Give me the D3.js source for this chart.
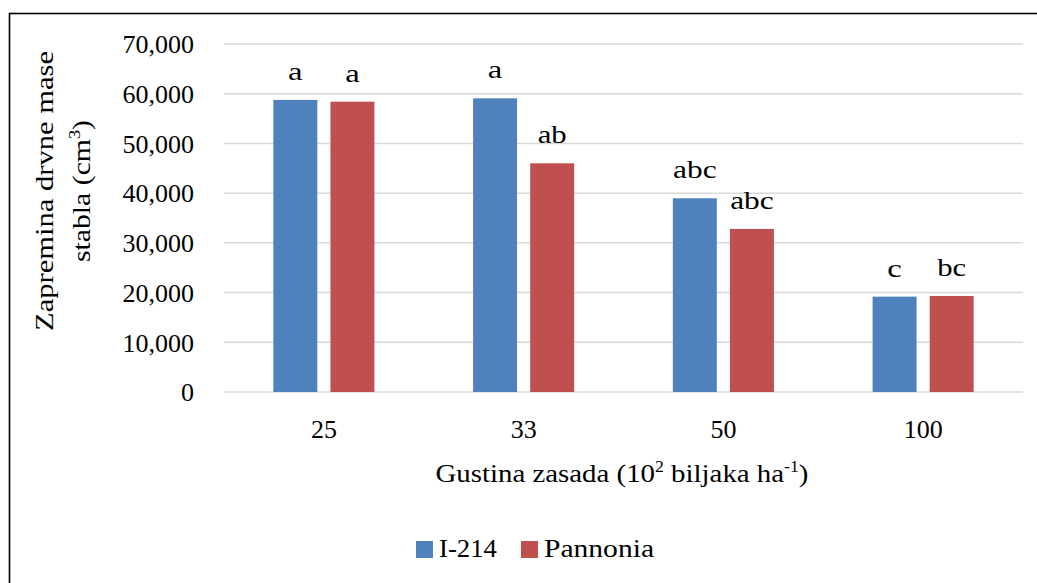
<!DOCTYPE html>
<html><head><meta charset="utf-8">
<script src="https://cdn.jsdelivr.net/npm/d3@7"></script>
</head>
<body style="margin:0;background:#fff">
<svg id="chart" width="1037" height="583" style="display:block"></svg>
<script>
const categories = ["25", "33", "50", "100"];
const seriesNames = ["I-214", "Pannonia"];
const valuesI214 = [58750, 59070, 38970, 19180];
const valuesPannonia = [58400, 46000, 32800, 19320];
const lettersI214 = ["a", "a", "abc", "c"];
const lettersPannonia = ["a", "ab", "abc", "bc"];
const yTicks = [0, 10000, 20000, 30000, 40000, 50000, 60000, 70000];
const colors = ["#4F81BD", "#C0504D"];

const svg = d3.select("#chart");
const W = 1037, H = 583;
const FS = 26;
const FF = "Liberation Serif";

svg.append("rect").attr("x", 9.5).attr("y", 13.5).attr("width", W + 20).attr("height", H + 20)
  .attr("fill", "none").attr("stroke", "#000").attr("stroke-width", 1.6);

const x0 = d3.scaleBand().domain(categories).range([224, 1023]).paddingInner(0.494).paddingOuter(0.247);
const x1 = d3.scaleBand().domain(seriesNames).range([0, x0.bandwidth()]).paddingInner(0.23);
const y = d3.scaleLinear().domain([0, 70000]).range([392, 44]);

svg.append("g").selectAll("line").data(yTicks).join("line")
  .attr("x1", 224).attr("x2", 1023)
  .attr("y1", d => y(d)).attr("y2", d => y(d))
  .attr("stroke", "#d9d9d9").attr("stroke-width", 1.5);

const yAxis = d3.axisLeft(y).tickValues(yTicks).tickFormat(d3.format(",")).tickSize(0).tickPadding(0);
const gy = svg.append("g").attr("transform", "translate(194,0)").call(yAxis);
gy.attr("font-family", FF).attr("font-size", FS);
gy.select(".domain").remove();
gy.selectAll("text").style("font-family", FF).style("font-size", FS + "px").attr("fill", "#000")
  .attr("dy", "0.34em");

const xAxis = d3.axisBottom(x0).tickSize(0).tickPadding(0);
const gx = svg.append("g").attr("transform", "translate(0,438)").call(xAxis);
gx.attr("font-family", FF).attr("font-size", FS);
gx.select(".domain").remove();
gx.selectAll("text").style("font-family", FF).style("font-size", FS + "px").attr("fill", "#000")
  .attr("dy", 0);

const data = [];
categories.forEach((c, i) => {
  data.push({cat: c, s: seriesNames[0], v: valuesI214[i], l: lettersI214[i], col: colors[0]});
  data.push({cat: c, s: seriesNames[1], v: valuesPannonia[i], l: lettersPannonia[i], col: colors[1]});
});
svg.append("g").selectAll("rect").data(data).join("rect")
  .attr("x", d => x0(d.cat) + x1(d.s))
  .attr("width", x1.bandwidth())
  .attr("y", d => y(d.v))
  .attr("height", d => y(0) - y(d.v))
  .attr("fill", d => d.col);

svg.append("g").selectAll("text").data(data).join("text")
  .attr("x", d => x0(d.cat) + x1(d.s) + x1.bandwidth() / 2)
  .attr("y", d => y(d.v) - 20)
  .attr("text-anchor", "middle").style("font-size", FS + "px").style("font-family", FF).attr("fill", "#000")
  .attr("textLength", d => d.l.length * 14.5).attr("lengthAdjust", "spacingAndGlyphs")
  .text(d => d.l);

const xt = svg.append("text").attr("x", 622).attr("y", 482).attr("text-anchor", "middle")
  .style("font-size", FS + "px").style("font-family", FF).attr("fill", "#000");
xt.append("tspan").text("Gustina zasada (10");
xt.append("tspan").style("font-size", "16px").attr("dy", -10).text("2");
xt.append("tspan").attr("dy", 10).text(" biljaka ha");
xt.append("tspan").style("font-size", "16px").attr("dy", -10).text("-1");
xt.append("tspan").attr("dy", 10).text(")");
xt.attr("textLength", 373).attr("lengthAdjust", "spacingAndGlyphs");

svg.append("text").attr("transform", "translate(53,191) rotate(-90)")
  .attr("text-anchor", "middle").style("font-size", FS + "px").style("font-family", FF).attr("fill", "#000")
  .attr("textLength", 280).attr("lengthAdjust", "spacingAndGlyphs")
  .text("Zapremina drvne mase");
const yt2 = svg.append("text").attr("transform", "translate(90,191) rotate(-90)")
  .attr("text-anchor", "middle").style("font-size", FS + "px").style("font-family", FF).attr("fill", "#000");
yt2.append("tspan").text("stabla (cm");
yt2.append("tspan").style("font-size", "16px").attr("dy", -10).text("3");
yt2.append("tspan").attr("dy", 10).text(")");
yt2.attr("textLength", 142).attr("lengthAdjust", "spacingAndGlyphs");

const legX = [416, 521];
const legW = [58, 110];
const lg = svg.append("g");
seriesNames.forEach((s, i) => {
  lg.append("rect").attr("x", legX[i]).attr("y", 541).attr("width", 17).attr("height", 17).attr("fill", colors[i]);
  lg.append("text").attr("x", legX[i] + 23).attr("y", 557).style("font-size", FS + "px").style("font-family", FF).attr("fill", "#000")
    .attr("textLength", legW[i]).attr("lengthAdjust", "spacingAndGlyphs").text(s);
});
</script>
</body></html>
